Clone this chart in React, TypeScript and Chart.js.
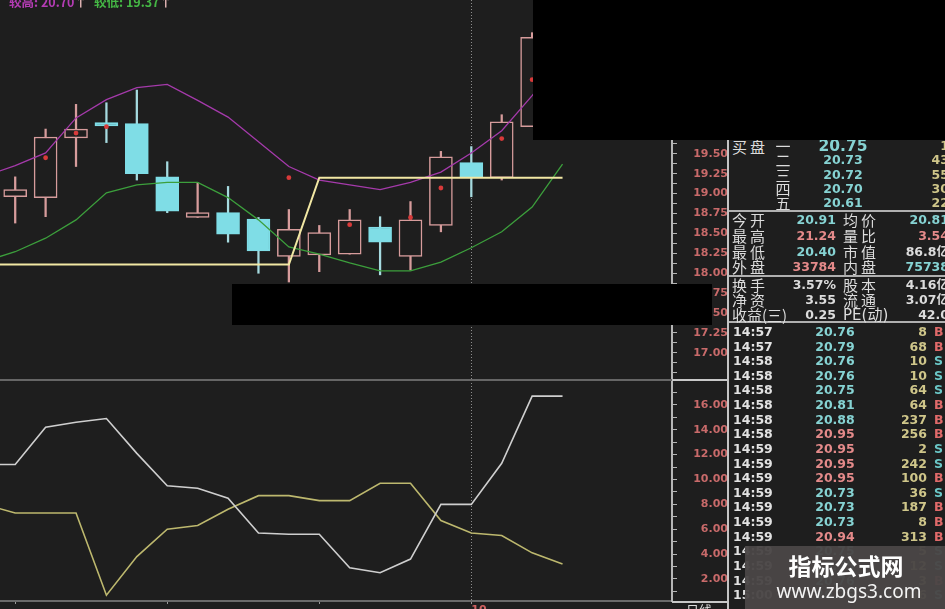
import React, { useEffect, useRef } from 'react';
import { Chart, registerables } from 'chart.js';

Chart.register(...registerables);

const W = 945;
const H = 609;
const BG = '#1e1e1e';
const PINK = '#d79c9c';
const CYAN = '#7fdde6';
const CYAN_WICK = '#a6dbe0';

// ---------- K-line data (bar index 0..18) ----------
const BAR_INDEX = [0, 1, 2, 3, 4, 5, 6, 7, 8, 9, 10, 11, 12, 13, 14, 15, 16, 17, 18];
const OPEN = [18.96, 18.95, 19.7, 19.89, 19.88, 19.21, 18.7, 18.76, 18.68, 18.21, 18.23, 18.24, 18.58, 18.21, 18.6, 19.39, 19.2, 19.84, 20.91];
const HIGH = [19.21, 19.81, 20.12, 20.14, 20.3, 19.4, 19.14, 19.09, 18.7, 18.8, 18.6, 18.8, 18.71, 18.9, 19.53, 19.59, 19.99, 21.02, 21.24];
const LOW = [18.63, 18.71, 19.34, 19.64, 19.17, 18.76, 18.7, 18.39, 18.0, 17.89, 18.02, 18.24, 17.98, 18.04, 18.52, 18.96, 19.17, 19.84, 20.4];
const CLOSE = [19.05, 19.71, 19.81, 19.85, 19.25, 18.78, 18.76, 18.49, 18.28, 18.55, 18.51, 18.67, 18.39, 18.67, 19.46, 19.2, 19.9, 20.96, 20.75];

// ---------- indicator lines (index -1..18) ----------
const LINE_INDEX = [-1, 0, 1, 2, 3, 4, 5, 6, 7, 8, 9, 10, 11, 12, 13, 14, 15, 16, 17, 18];
const UPPER_BAND = [19.22, 19.35, 19.51, 19.95, 20.18, 20.33, 20.37, 20.17, 19.96, 19.65, 19.34, 19.17, 19.11, 19.05, 19.14, 19.27, 19.51, 19.79, 20.23, 20.7];
const LOWER_BAND = [18.15, 18.27, 18.44, 18.67, 19.01, 19.11, 19.14, 19.14, 18.95, 18.67, 18.33, 18.24, 18.13, 18.03, 18.03, 18.14, 18.32, 18.52, 18.83, 19.37];
const SUPPORT_LINE = [18.11, 18.11, 18.11, 18.11, 18.11, 18.11, 18.11, 18.11, 18.11, 18.11, 18.11, 19.2, 19.2, 19.2, 19.2, 19.2, 19.2, 19.2, 19.2, 19.2];

// signal dots
const DOT_INDEX = [1, 2, 3, 9, 11, 13, 14, 16, 17];
const DOT_PRICE = [19.45, 19.76, 19.84, 19.2, 18.61, 18.7, 19.07, 19.69, 20.43];

// ---------- lower panel (index -1..18) ----------
const OSC_WHITE = [11.2, 11.2, 14.2, 14.6, 14.9, 12.1, 9.5, 9.3, 8.5, 5.7, 5.6, 5.6, 2.9, 2.5, 3.6, 8.0, 8.0, 11.3, 16.7, 16.7];
const OSC_YELLOW = [8.0, 7.3, 7.3, 7.3, 0.7, 3.8, 6.0, 6.3, 7.6, 8.7, 8.7, 8.3, 8.3, 9.7, 9.7, 6.7, 5.7, 5.5, 4.1, 3.2];

// ---------- axes ----------
const PRICE_TICKS = [17.0, 17.25, 17.5, 17.75, 18.0, 18.25, 18.5, 18.75, 19.0, 19.25, 19.5, 19.75, 20.0, 20.25, 20.5, 20.75, 21.0, 21.25];
const OSC_TICKS = [2, 4, 6, 8, 10, 12, 14, 16];
const DATE_TICK_INDEX = [0, 5, 10, 15];
const MARK_INDEX = 15;
const MARK_LABEL = '10';
const X_MIN = -0.5;
const X_MAX = 21.6;
const PRICE_MIN = 16.66;
const PRICE_MAX = 21.43;
const OSC_MIN = 0.23;
const OSC_MAX = 18;

// ---------- quote table ----------
const BUY_LEVELS = ['一', '二', '三', '四', '五'];
const BUY_PRICES = ['20.75', '20.73', '20.72', '20.70', '20.61'];
const BUY_VOLS = ['1', '43', '55', '30', '22'];
const STAT_LABEL_1 = ['今开', '最高', '最低', '外盘', '换手', '净资', '收益(三)'];
const STAT_VALUE_1 = ['20.91', '21.24', '20.40', '33784', '3.57%', '3.55', '0.25'];
const STAT_COLOR_1 = ['c', 'r', 'c', 'r', 'w', 'w', 'w'];
const STAT_LABEL_2 = ['均价', '量比', '市值', '内盘', '股本', '流通', 'PE(动)'];
const STAT_VALUE_2 = ['20.81', '3.54', '86.8亿', '75738', '4.16亿', '3.07亿', '42.0'];
const STAT_COLOR_2 = ['c', 'r', 'w', 'c', 'w', 'w', 'w'];
const TRADE_TIMES = ['14:57', '14:57', '14:58', '14:58', '14:58', '14:58', '14:58', '14:58', '14:59', '14:59', '14:59', '14:59', '14:59', '14:59', '14:59', '14:59', '14:59', '14:59', '15:00'];
const TRADE_PRICES = ['20.76', '20.79', '20.76', '20.76', '20.75', '20.81', '20.88', '20.95', '20.95', '20.95', '20.95', '20.73', '20.73', '20.73', '20.94', '20.75', '20.75', '20.76', '20.75'];
const TRADE_VOLS = ['8', '68', '10', '10', '64', '64', '237', '256', '2', '242', '100', '36', '187', '8', '313', '5', '12', '3', '1006'];
const TRADE_SIDES = ['B', 'B', 'S', 'S', 'S', 'B', 'B', 'B', 'S', 'S', 'B', 'S', 'B', 'B', 'B', 'S', 'S', 'B', 'S'];
const PREV_CLOSE = 20.93;

const COLORS: Record<string, string> = { c: '#86d3d3', r: '#e48a8a', w: '#dcdcdc', y: '#cfc68a' };
const NUM_FONT = '"DejaVu Sans", "Noto Sans CJK SC", sans-serif';
const CJK_FONT = '"Noto Sans CJK SC", sans-serif';

type TProps = {
  x: number; y: number; text: string; color: string; size?: number; bold?: boolean;
  align?: 'left' | 'right' | 'center'; family?: string; ls?: number;
};
function T({ x, y, text, color, size = 12.5, bold = true, align = 'left', family = NUM_FONT, ls = 0 }: TProps) {
  const h = 18;
  const style: React.CSSProperties = {
    position: 'absolute', top: y - h / 2, height: h, lineHeight: h + 'px', color, fontSize: size,
    fontWeight: bold ? 700 : 400, fontFamily: family, whiteSpace: 'nowrap', letterSpacing: ls,
  };
  if (align === 'left') style.left = x;
  else if (align === 'right') style.right = W - x;
  else { style.left = x - 100; style.width = 200; style.textAlign = 'center'; }
  return <div style={style}>{text}</div>;
}

function Box({ x, y, w, h, bg }: { x: number; y: number; w: number; h: number; bg: string }) {
  return <div style={{ position: 'absolute', left: x, top: y, width: w, height: h, background: bg }} />;
}

const near = (arr: number[], v: number) => arr.some((t) => Math.abs(t - v) < 1e-6);

export default function App() {
  const topRef = useRef<HTMLCanvasElement>(null);
  const botRef = useRef<HTMLCanvasElement>(null);

  useEffect(() => {
    document.body.style.margin = '0';
    document.body.style.background = BG;

    const up = BAR_INDEX.map((i) => CLOSE[i] >= OPEN[i]);
    const bodies = BAR_INDEX.map((i) => ({ x: i, y: [OPEN[i], CLOSE[i]] }));
    const wicks = BAR_INDEX.map((i) => ({ x: i, y: [LOW[i], HIGH[i]] }));
    const line = (vals: number[]) => LINE_INDEX.map((x, k) => ({ x, y: vals[k] }));
    const dots = DOT_INDEX.map((x, k) => ({ x, y: DOT_PRICE[k] }));

    const markGrid = (ctx: any) => (ctx.tick && ctx.tick.value === MARK_INDEX ? '#8d8d8d' : 'rgba(0,0,0,0)');

    const top = new Chart(topRef.current!, {
      type: 'bar',
      data: {
        datasets: [
          { type: 'line', data: line(SUPPORT_LINE), borderColor: '#f2e8a4', borderWidth: 2, pointRadius: 0, tension: 0, order: 0 } as any,
          { type: 'line', data: line(UPPER_BAND), borderColor: '#a53aab', borderWidth: 1.3, pointRadius: 0, tension: 0, order: 0 } as any,
          { type: 'line', data: line(LOWER_BAND), borderColor: '#3c9f3c', borderWidth: 1.3, pointRadius: 0, tension: 0, order: 0 } as any,
          { type: 'scatter', data: dots, backgroundColor: '#d83a3a', borderWidth: 0, pointRadius: 2.4, order: 1 } as any,
          {
            type: 'bar', data: bodies as any, grouped: false, barThickness: 23, borderWidth: 1.5, borderSkipped: false,
            backgroundColor: up.map((u) => (u ? BG : CYAN)), borderColor: up.map((u) => (u ? PINK : CYAN)), order: 2,
          } as any,
          {
            type: 'bar', data: wicks as any, grouped: false, barThickness: 1.6, borderWidth: 0,
            backgroundColor: up.map((u) => (u ? PINK : CYAN_WICK)), order: 3,
          } as any,
        ],
      },
      options: {
        responsive: false, maintainAspectRatio: false, animation: false, events: [],
        layout: { padding: 0, autoPadding: false },
        plugins: { legend: { display: false }, tooltip: { enabled: false } },
        scales: {
          x: {
            type: 'linear', min: X_MIN, max: X_MAX, offset: false,
            afterBuildTicks: (s: any) => { s.ticks = [{ value: MARK_INDEX }]; },
            afterFit: (s: any) => { s.height = 0; s.paddingLeft = 0; s.paddingRight = 0; },
            ticks: { display: false },
            grid: { offset: false, drawTicks: false, color: markGrid, lineWidth: 1 },
            border: { display: false, dash: [1, 2] },
          },
          y: {
            type: 'linear', position: 'right', min: PRICE_MIN, max: PRICE_MAX,
            afterBuildTicks: (s: any) => {
              const t = [];
              for (let k = 0; k <= 37; k++) t.push({ value: 16.75 + k * 0.125 });
              s.ticks = t;
            },
            afterFit: (s: any) => { s.width = 56; s.paddingTop = 0; s.paddingBottom = 0; },
            ticks: {
              autoSkip: false, crossAlign: 'far', padding: 14, color: '#c86a6a',
              font: { family: 'DejaVu Sans', size: 11, weight: 'bold' },
              callback: (v: any) => (near(PRICE_TICKS, Number(v)) ? Number(v).toFixed(2) : ''),
            },
            grid: { drawOnChartArea: false, tickLength: 5, tickColor: '#b5b5b5', tickWidth: 1 },
            border: { display: true, color: '#b5b5b5', width: 2 },
          },
        },
      } as any,
    });

    const bot = new Chart(botRef.current!, {
      type: 'line',
      data: {
        datasets: [
          { data: line(OSC_WHITE), borderColor: '#cfcfcf', borderWidth: 1.6, pointRadius: 0, tension: 0 },
          { data: line(OSC_YELLOW), borderColor: '#bdb86e', borderWidth: 1.6, pointRadius: 0, tension: 0 },
        ] as any,
      },
      options: {
        responsive: false, maintainAspectRatio: false, animation: false, events: [],
        layout: { padding: 0, autoPadding: false },
        plugins: { legend: { display: false }, tooltip: { enabled: false } },
        scales: {
          x: {
            type: 'linear', min: X_MIN, max: X_MAX, offset: false,
            afterBuildTicks: (s: any) => { s.ticks = DATE_TICK_INDEX.map((v) => ({ value: v })); },
            afterFit: (s: any) => { s.height = 8; s.paddingLeft = 0; s.paddingRight = 0; },
            ticks: {
              autoSkip: false, maxRotation: 0, align: 'start', padding: 0, color: '#d06060',
              font: { family: 'DejaVu Sans', size: 11, weight: 'bold' },
              callback: (v: any) => (Number(v) === MARK_INDEX ? MARK_LABEL : ''),
            },
            grid: { offset: false, color: markGrid, lineWidth: 1, tickLength: 3, tickColor: '#9a9a9a' },
            border: { display: true, color: '#6a6a6a', width: 2, dash: [1, 2] },
          },
          y: {
            type: 'linear', position: 'right', min: OSC_MIN, max: OSC_MAX,
            afterBuildTicks: (s: any) => {
              const t = [];
              for (let k = 1; k <= 17; k++) t.push({ value: k });
              s.ticks = t;
            },
            afterFit: (s: any) => { s.width = 56; s.paddingTop = 0; s.paddingBottom = 0; },
            ticks: {
              autoSkip: false, crossAlign: 'far', padding: 14, color: '#c86a6a',
              font: { family: 'DejaVu Sans', size: 11, weight: 'bold' },
              callback: (v: any) => (near(OSC_TICKS, Number(v)) ? Number(v).toFixed(2) : ''),
            },
            grid: { drawOnChartArea: false, tickLength: 5, tickColor: '#b5b5b5', tickWidth: 1 },
            border: { display: true, color: '#b5b5b5', width: 2 },
          },
        },
      } as any,
    });

    return () => { top.destroy(); bot.destroy(); };
  }, []);

  const BUY_Y = [146, 160, 175, 189, 203];
  const STAT_Y = [220, 236, 252, 267, 285, 300, 315];
  const TRADE_Y0 = 332;
  const TRADE_STEP = 14.62;

  return (
    <div style={{ position: 'fixed', left: 0, top: 0, width: W, height: H, overflow: 'hidden', background: BG }}>
      <canvas ref={topRef} width={728} height={380} style={{ position: 'absolute', left: 0, top: 0, width: 728, height: 380 }} />
      <canvas ref={botRef} width={728} height={229} style={{ position: 'absolute', left: 0, top: 380, width: 728, height: 229 }} />

      {/* frame lines */}
      <Box x={0} y={379} w={672} h={2} bg="#666666" />
      <Box x={672} y={379} w={57} h={2} bg="#c8c8c8" />
      <Box x={727} y={140} w={2} h={469} bg="#c4c4c4" />
      <Box x={729} y={210} w={216} h={1.5} bg="#b0b0b0" />
      <Box x={729} y={275} w={216} h={1.5} bg="#b0b0b0" />
      <Box x={729} y={321} w={216} h={1.5} bg="#b0b0b0" />
      <Box x={672} y={601} w={57} h={2} bg="#c8c8c8" />
      <T x={686} y={610} text="日线" color="#dcdcdc" size={13} bold={false} family={CJK_FONT} />

      {/* legend */}
      <div style={{ position: 'absolute', left: 9, top: -5, fontSize: 12.5, lineHeight: '14px', fontFamily: CJK_FONT, fontWeight: 700, whiteSpace: 'nowrap' }}>
        <span style={{ color: '#b43cb4' }}>较高: 20.70</span>
        <span style={{ color: '#f0c0c0' }}>↑</span>
        <span style={{ color: '#45b845', marginLeft: 7 }}>较低: 19.37</span>
        <span style={{ color: '#f0c0c0' }}>↑</span>
      </div>

      {/* quote table: buy levels */}
      <T x={732} y={147} text="买盘" color="#dcdcdc" size={15} bold={false} family={CJK_FONT} ls={3} />
      {BUY_LEVELS.map((s, k) => (
        <T key={'bl' + k} x={783} y={BUY_Y[k]} text={s} color="#dcdcdc" size={15} bold={false} family={CJK_FONT} align="center" />
      ))}
      {BUY_PRICES.map((s, k) => (
        <T key={'bp' + k} x={843} y={BUY_Y[k]} text={s} color={COLORS.c} size={k === 0 ? 15.5 : 12.5} align="center" />
      ))}
      {BUY_VOLS.map((s, k) => (
        <T key={'bv' + k} x={949} y={BUY_Y[k]} text={s} color={COLORS.y} align="right" />
      ))}

      {/* stats */}
      {STAT_LABEL_1.map((s, k) => (
        <T key={'sl1' + k} x={732} y={STAT_Y[k]} text={s} color="#dcdcdc" size={15} bold={false} family={CJK_FONT} ls={k === 6 ? 0 : 3} />
      ))}
      {STAT_VALUE_1.map((s, k) => (
        <T key={'sv1' + k} x={836} y={STAT_Y[k]} text={s} color={COLORS[STAT_COLOR_1[k]]} align="right" />
      ))}
      {STAT_LABEL_2.map((s, k) => (
        <T key={'sl2' + k} x={843} y={STAT_Y[k]} text={s} color="#dcdcdc" size={15} bold={false} family={k === 6 ? NUM_FONT : CJK_FONT} ls={k === 6 ? 0 : 3} />
      ))}
      {STAT_VALUE_2.map((s, k) => (
        <T key={'sv2' + k} x={949} y={STAT_Y[k]} text={s} color={COLORS[STAT_COLOR_2[k]]} align="right" />
      ))}

      {/* trades */}
      {TRADE_TIMES.map((s, k) => {
        const y = TRADE_Y0 + k * TRADE_STEP;
        const p = parseFloat(TRADE_PRICES[k]);
        return (
          <React.Fragment key={'tr' + k}>
            <T x={733} y={y} text={s} color="#e2e2e2" />
            <T x={835} y={y} text={TRADE_PRICES[k]} color={p > PREV_CLOSE ? COLORS.r : COLORS.c} align="center" />
            <T x={927} y={y} text={TRADE_VOLS[k]} color={COLORS.y} align="right" />
            <T x={934} y={y} text={TRADE_SIDES[k]} color={TRADE_SIDES[k] === 'B' ? '#e06a6a' : '#6ac6c6'} />
          </React.Fragment>
        );
      })}

      {/* masks */}
      <Box x={533} y={0} w={412} h={140} bg="#000000" />
      <Box x={232} y={284} w={480} h={41} bg="#000000" />

      {/* watermark */}
      <div style={{ position: 'absolute', left: 745, top: 546, width: 200, height: 63, background: 'rgba(74,70,70,0.96)' }} />
      <T x={846} y={565} text="指标公式网" color="#ffffff" size={23} family={CJK_FONT} align="center" />
      <T x={849} y={591} text="www.zbgs3.com" color="#f4f4f4" size={19} bold={false} family='"Noto Sans", sans-serif' align="center" />
    </div>
  );
}
